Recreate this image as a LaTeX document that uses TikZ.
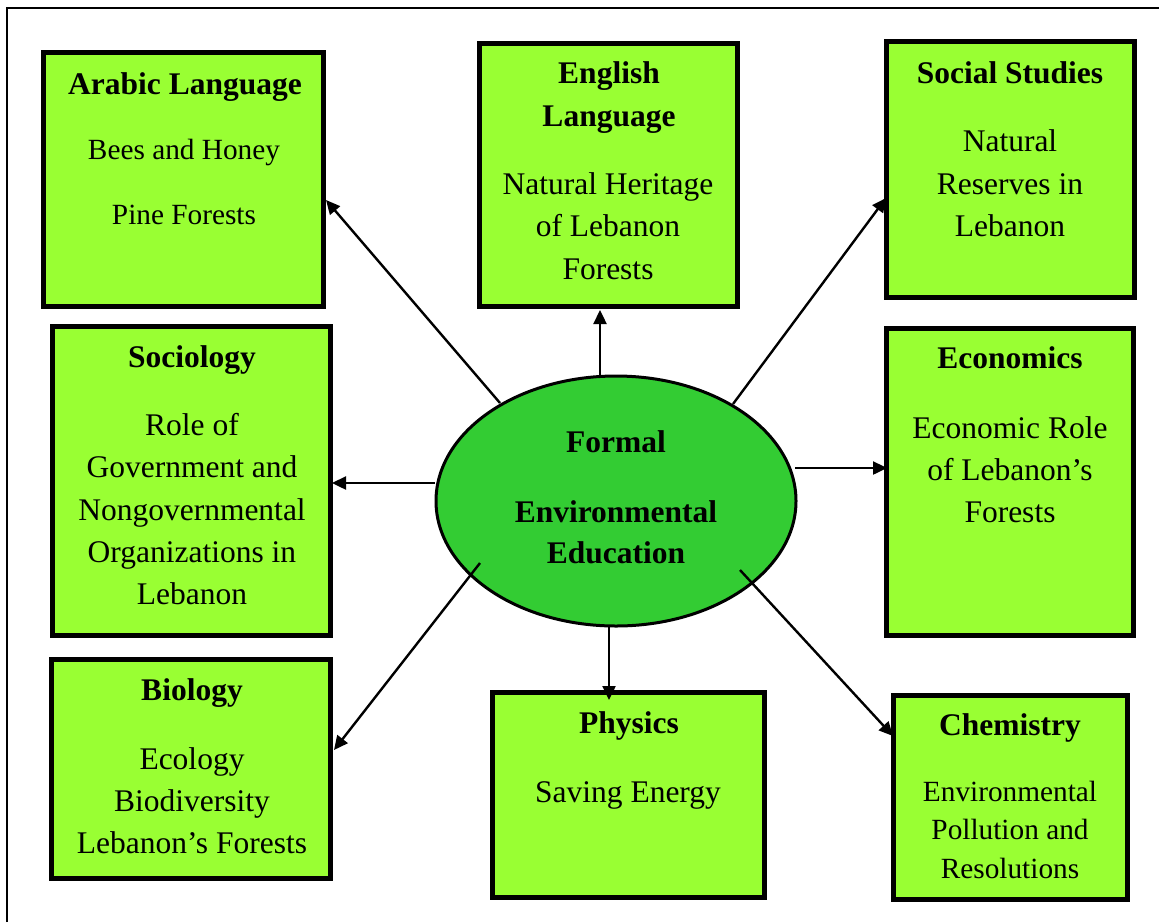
\documentclass[tikz,border=0pt]{standalone}
\usepackage{fontspec}
\setmainfont{Liberation Serif}
\usetikzlibrary{arrows.meta,shapes.geometric}
\definecolor{lgreen}{HTML}{99FF33}
\definecolor{dgreen}{HTML}{33CC33}
\tikzset{
  box/.style={draw=black, line width=5pt, fill=lgreen, rectangle, inner sep=0pt},
  ttl/.style={font=\bfseries\fontsize{31.5}{38}\selectfont, anchor=base, inner sep=0pt},
  txt/.style={font=\fontsize{31.5}{38}\selectfont, anchor=base, inner sep=0pt},
  stxt/.style={font=\fontsize{29.3}{35}\selectfont, anchor=base, inner sep=0pt},
  arr/.style={draw=black, line width=2.4pt, -{Triangle[length=14pt,width=13pt]}},
}
\begin{document}
\begin{tikzpicture}[x=1pt,y=-1pt]
\useasboundingbox (0,0) rectangle (1159,922);
\draw[line width=2pt] (7,922) |- (1159,8);

% boxes
\node[box, minimum width=280pt, minimum height=254pt] (arabic) at (183.5,179.5) {};
\node[box, minimum width=258pt, minimum height=263pt] (english) at (608.5,175) {};
\node[box, minimum width=248pt, minimum height=256pt] (social) at (1010.5,169) {};
\node[box, minimum width=278pt, minimum height=309pt] (sociology) at (191.5,481) {};
\node[box, minimum width=247pt, minimum height=307pt] (economics) at (1010,482) {};
\node[box, minimum width=279pt, minimum height=219pt] (biology) at (191,768.5) {};
\node[box, minimum width=272pt, minimum height=205pt] (physics) at (628.5,795) {};
\node[box, minimum width=234pt, minimum height=204pt] (chemistry) at (1010,797) {};

% ellipse
\node[ellipse, draw=black, line width=3pt, fill=dgreen, minimum width=360pt, minimum height=250pt, inner sep=0pt] (center) at (616,501) {};

% texts
\node[ttl] (t1a) at (185,94) {Arabic Language};
\node[stxt] (t1b) at (184,159) {Bees and Honey};
\node[stxt] (t1c) at (184,224) {Pine Forests};

\node[ttl] (t2a) at (609,83) {English};
\node[ttl] (t2b) at (609,126) {Language};
\node[txt] (t2c) at (608,194) {Natural Heritage};
\node[txt] (t2d) at (608,236) {of Lebanon};
\node[txt] (t2e) at (608,279) {Forests};

\node[ttl] (t3a) at (1010,83) {Social Studies};
\node[txt] (t3b) at (1010,151) {Natural};
\node[txt] (t3c) at (1010,194) {Reserves in};
\node[txt] (t3d) at (1010,236) {Lebanon};

\node[ttl] (t4a) at (192,367) {Sociology};
\node[txt] (t4b) at (192,435) {Role of};
\node[txt] (t4c) at (192,477) {Government and};
\node[txt] (t4d) at (192,520) {Nongovernmental};
\node[txt] (t4e) at (192,562) {Organizations in};
\node[txt] (t4f) at (192,604) {Lebanon};

\node[ttl] (t5a) at (1010,368) {Economics};
\node[txt] (t5b) at (1010,438) {Economic Role};
\node[txt] (t5c) at (1010,480) {of Lebanon’s};
\node[txt] (t5d) at (1010,522) {Forests};

\node[ttl] (t6a) at (192,700) {Biology};
\node[txt] (t6b) at (192,769) {Ecology};
\node[txt] (t6c) at (192,811) {Biodiversity};
\node[txt] (t6d) at (192,853) {Lebanon’s Forests};

\node[ttl] (t7a) at (629,733) {Physics};
\node[txt] (t7b) at (628,802) {Saving Energy};

\node[ttl] (t8a) at (1010,735) {Chemistry};
\node[stxt] (t8b) at (1010,801) {Environmental};
\node[stxt] (t8c) at (1010,839) {Pollution and};
\node[stxt] (t8d) at (1010,878) {Resolutions};

\node[ttl] (c1) at (616,452) {Formal};
\node[ttl] (c2) at (616,522) {Environmental};
\node[ttl] (c3) at (616,563) {Education};

% connector end points
\coordinate (s1) at (500,403);
\coordinate (s2) at (600,376);
\coordinate (s3) at (733,404);
\coordinate (s4) at (435,483);
\coordinate (s5) at (795,468);
\coordinate (s6) at (480,563);
\coordinate (s7) at (609,627);
\coordinate (s8) at (740,570);
\coordinate (e1) at (326,200);
\coordinate (e2) at (600,310);
\coordinate (e3) at (886,198);
\coordinate (e4) at (332,483);
\coordinate (e5) at (887,468);
\coordinate (e6) at (334,750);
\coordinate (e7) at (609,700);
\coordinate (e8) at (893,736);

\draw[arr] (s1) -- (e1);
\draw[arr] (s2) -- (e2);
\draw[arr] (s3) -- (e3);
\draw[arr] (s4) -- (e4);
\draw[arr] (s5) -- (e5);
\draw[arr] (s6) -- (e6);
\draw[arr] (s7) -- (e7);
\draw[arr] (s8) -- (e8);
\end{tikzpicture}
\end{document}
